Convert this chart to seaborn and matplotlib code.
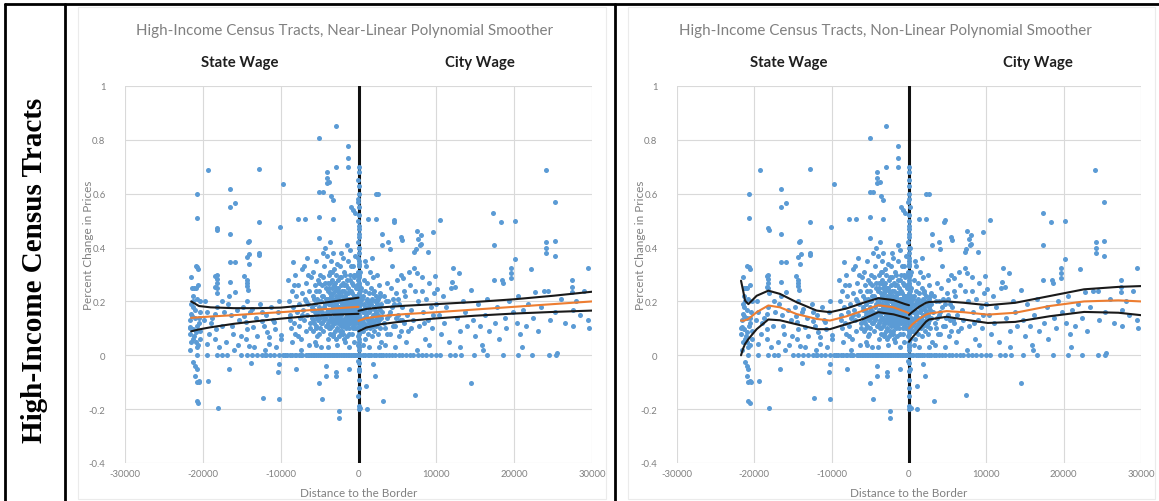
import matplotlib
matplotlib.use("Agg")
import matplotlib.pyplot as plt
import seaborn as sns
import pandas as pd
from matplotlib.lines import Line2D
from matplotlib.patches import Rectangle

sns.set_theme(style="white")
plt.rcParams['font.family'] = ['Lato', 'DejaVu Sans']

# ---------------- data ----------------
far_left = [(-21600, 0.13), (-21500, 0.19), (-21400, 0.25), (-21300, 0.22), (-21200, 0.20), (-21400, 0.147),
            (-21000, 0.14), (-21300, 0.098), (-21100, 0.073), (-21500, 0.05), (-20900, 0.048), (-20800, 0.03),
            (-21600, 0.02), (-21700, 0.10), (-21700, 0.08), (-20500, 0.12), (-20400, 0.16), (-20300, 0.20),
            (-20300, 0.09), (-20300, 0.06), (-20710, 0.60), (-20700, 0.51), (-20900, 0.333), (-20700, 0.327),
            (-20600, 0.32), (-21100, 0.25), (-20900, 0.25), (-21500, 0.29), (-20600, 0.26), (-21200, -0.026),
            (-21000, -0.039), (-20800, -0.051), (-21000, -0.076), (-20500, -0.094), (-20800, -0.10),
            (-20800, -0.171), (-20600, -0.178), (-21000, 0.17), (-20700, 0.11), (-21200, 0.06), (-20600, 0.04),
            (-21500, 0.155), (-20800, 0.21), (-21300, 0.18), (-20500, 0.14), (-21600, 0.105), (-20900, 0.085)]

state_outer = [(-19300, 0.689), (-18220, 0.473), (-18130, 0.465), (-18220, 0.30), (-18220, 0.285), (-18220, 0.27),
               (-18220, 0.25), (-18130, 0.23), (-18400, 0.296), (-18400, 0.252), (-18400, 0.153), (-18200, 0.178),
               (-18400, 0.06), (-18300, 0.098), (-19480, 0.16), (-19480, 0.042), (-19700, 0.20), (-19000, 0.12),
               (-19200, 0.08), (-19800, 0.13), (-18800, 0.14), (-17600, 0.11), (-17300, 0.16), (-17000, 0.05),
               (-17900, 0.03), (-16510, 0.617), (-16510, 0.552), (-15870, 0.564), (-16510, 0.45), (-16500, 0.347),
               (-15870, 0.345), (-16510, 0.273), (-16600, 0.22), (-15870, 0.234), (-16250, 0.11), (-16100, 0.079),
               (-16400, 0.15), (-15600, 0.17), (-15300, 0.13), (-15100, 0.07), (-15500, 0.04), (-16800, 0.19),
               (-14070, 0.426), (-14030, 0.376), (-14100, 0.34), (-14200, 0.42), (-14300, 0.366), (-14370, 0.28),
               (-14370, 0.27), (-14160, 0.243), (-14300, 0.257), (-14650, 0.296), (-14300, 0.203), (-14650, 0.147),
               (-14500, 0.122), (-14300, 0.098), (-14500, 0.06), (-14100, 0.036), (-14800, 0.18), (-13900, 0.16),
               (-13660, 0.172), (-13500, 0.104), (-13200, 0.14), (-13000, 0.07), (-12830, 0.693), (-12790, 0.494),
               (-12790, 0.38), (-12800, 0.373), (-12350, 0.16), (-12350, 0.129), (-12600, 0.19), (-12100, 0.11),
               (-11800, 0.085), (-11500, 0.067), (-11500, 0.042), (-11900, 0.15), (-11300, 0.18), (-11000, 0.13),
               (-10800, 0.122), (-10700, 0.098), (-10400, 0.16), (-10200, 0.20), (-10000, 0.06), (-9900, 0.075),
               (-10080, 0.475), (-9640, 0.637), (-17500, 0.20), (-16000, 0.02), (-13400, 0.03), (-12000, 0.02),
               (-10600, 0.03), (-19370, -0.094), (-20480, -0.098), (-18045, -0.197), (-12290, -0.158),
               (-10210, -0.161), (-10215, -0.032), (-10300, -0.063), (-16700, -0.05), (-13800, -0.03)]

cluster_a = [(-9000, 0.28), (-8900, 0.20), (-8800, 0.15), (-8700, 0.10), (-8600, 0.24), (-8500, 0.05), (-8400, 0.18),
             (-8300, 0.12), (-8200, 0.30), (-8100, 0.08), (-8000, 0.22), (-7900, 0.16), (-7800, 0.26), (-7700, 0.11),
             (-7600, 0.19), (-7500, 0.14), (-7400, 0.06), (-7300, 0.23), (-7200, 0.32), (-7100, 0.17), (-7000, 0.13),
             (-6900, 0.21), (-6800, 0.09), (-6700, 0.27), (-6600, 0.15), (-6500, 0.19), (-6400, 0.04), (-6300, 0.24),
             (-6200, 0.12), (-6100, 0.29), (-6000, 0.17), (-8750, 0.13), (-8250, 0.26), (-7750, 0.07), (-7250, 0.15),
             (-6750, 0.20), (-6250, 0.10), (-7730, 0.506), (-6870, 0.506), (-8380, 0.345), (-8060, -0.051),
             (-6950, 0.33), (-6450, 0.30), (-7450, 0.02), (-6650, 0.36)]

cluster_b = [(-5950, 0.14), (-5900, 0.22), (-5850, 0.09), (-5800, 0.31), (-5750, 0.17), (-5700, 0.12), (-5650, 0.26),
             (-5600, 0.05), (-5550, 0.19), (-5500, 0.15), (-5450, 0.35), (-5400, 0.11), (-5350, 0.21), (-5300, 0.07),
             (-5250, 0.28), (-5200, 0.16), (-5150, 0.13), (-5100, 0.24), (-5050, 0.18), (-5040, 0.605),
             (-5040, 0.807), (-5040, 0.512), (-5040, 0.434), (-5000, 0.10), (-4950, 0.30), (-4900, 0.14),
             (-4850, 0.20), (-4800, 0.03), (-4750, 0.26), (-4700, 0.16), (-4650, 0.12), (-4600, 0.605), (-4600, 0.38),
             (-4550, 0.22), (-4500, 0.09), (-4450, 0.33), (-4400, 0.18), (-4350, 0.14), (-4300, 0.27), (-4250, 0.40),
             (-4200, 0.11), (-4150, 0.21), (-4100, 0.68), (-4090, 0.66), (-4080, 0.64), (-4050, 0.37), (-4000, 0.16),
             (-3950, 0.24), (-3900, 0.06), (-3850, 0.30), (-3800, 0.19), (-3750, 0.642), (-3750, 0.13), (-3700, 0.42),
             (-3650, 0.23), (-3600, 0.10), (-3570, 0.593), (-3550, 0.35), (-3500, 0.17), (-3450, 0.28), (-3400, 0.14),
             (-3350, 0.21), (-3320, 0.578), (-3320, 0.506), (-3300, 0.38), (-3250, 0.08), (-3200, 0.26),
             (-3150, 0.16), (-3100, 0.32), (-3050, 0.12), (-2930, 0.85),
             (-5920, 0.18), (-5820, 0.13), (-5720, 0.21), (-5620, 0.16), (-5520, 0.10), (-5420, 0.24), (-5320, 0.14),
             (-5220, 0.20), (-5120, 0.08), (-5020, 0.27), (-4920, 0.17), (-4820, 0.12), (-4720, 0.22), (-4620, 0.15),
             (-4520, 0.29), (-4420, 0.13), (-4320, 0.19), (-4220, 0.25), (-4120, 0.15), (-4020, 0.20), (-3920, 0.12),
             (-3820, 0.25), (-3720, 0.17), (-3620, 0.31), (-3520, 0.22), (-3420, 0.11), (-3320, 0.18), (-3220, 0.23),
             (-3120, 0.20), (-3020, 0.15), (-4700, -0.162), (-5080, -0.103), (-4180, -0.039), (-4150, -0.076),
             (-3965, 0.03), (-5475, 0.04), (-2930, 0.699)]

cluster_c = [(-2950, 0.13), (-2900, 0.19), (-2850, 0.25), (-2800, 0.10), (-2750, 0.16), (-2700, 0.34), (-2650, 0.21),
             (-2600, 0.14), (-2550, 0.07), (-2500, 0.23), (-2450, 0.18), (-2400, 0.29), (-2350, 0.12), (-2300, 0.20),
             (-2250, 0.15), (-2200, 0.38), (-2150, 0.24), (-2100, 0.09), (-2050, 0.17), (-2000, 0.27), (-1950, 0.13),
             (-1900, 0.21), (-1850, 0.31), (-1800, 0.16), (-1750, 0.05), (-1700, 0.22), (-1650, 0.14), (-1600, 0.19),
             (-1550, 0.26), (-1500, 0.11), (-1450, 0.18), (-1400, 0.35), (-1390, 0.778), (-1390, 0.731),
             (-1390, 0.699), (-1350, 0.23), (-1300, 0.15), (-1250, 0.20), (-1200, 0.08), (-1150, 0.28), (-1100, 0.17),
             (-1050, 0.12), (-1000, 0.55), (-1000, 0.24), (-950, 0.19), (-900, 0.33), (-850, 0.14), (-800, 0.21),
             (-750, 0.54), (-750, 0.10), (-700, 0.26), (-650, 0.16), (-600, 0.30), (-550, 0.12), (-500, 0.53),
             (-500, 0.22), (-450, 0.18), (-400, 0.37), (-350, 0.15), (-300, 0.25),
             (-2980, 0.17), (-2880, 0.22), (-2780, 0.14), (-2680, 0.18), (-2580, 0.24), (-2480, 0.15), (-2380, 0.20),
             (-2280, 0.11), (-2180, 0.17), (-2080, 0.22), (-1980, 0.16), (-1880, 0.12), (-1780, 0.20), (-1680, 0.17),
             (-1580, 0.23), (-1480, 0.15), (-1380, 0.19), (-1280, 0.12), (-1180, 0.21), (-1080, 0.15), (-980, 0.17),
             (-880, 0.20), (-780, 0.13), (-680, 0.19), (-580, 0.16), (-480, 0.20), (-380, 0.12), (-2930, 0.30),
             (-2630, 0.28), (-2330, 0.33), (-2030, 0.36), (-1730, 0.30), (-1430, 0.41), (-1130, 0.39), (-830, 0.27),
             (-530, 0.29), (-2470, -0.207), (-2470, -0.233), (-2890, -0.063), (-2850, -0.076), (-1165, -0.051),
             (-2700, 0.04), (-1900, 0.06), (-1200, 0.03), (-600, 0.05), (-2300, 0.08), (-1500, 0.07)]

dense_core = [(-3980, 0.11), (-3880, 0.21), (-3780, 0.15), (-3680, 0.27), (-3580, 0.13), (-3480, 0.19), (-3380, 0.25),
              (-3280, 0.12), (-3180, 0.18), (-3080, 0.24), (-2990, 0.09), (-2890, 0.16), (-2790, 0.20), (-2690, 0.12),
              (-2590, 0.17), (-2490, 0.22), (-2390, 0.14), (-2290, 0.26), (-2190, 0.13), (-2090, 0.19), (-1990, 0.11),
              (-1890, 0.24), (-1790, 0.14), (-1690, 0.19), (-1590, 0.12), (-1490, 0.21), (-1390, 0.16), (-1290, 0.25),
              (-1190, 0.14), (-1090, 0.19), (-990, 0.13), (-890, 0.23), (-790, 0.17), (-690, 0.11), (-590, 0.22),
              (-490, 0.15), (-390, 0.19), (-290, 0.14), (-200, 0.18), (-3930, 0.17), (-3730, 0.10), (-3530, 0.14),
              (-3330, 0.16), (-3130, 0.13), (-2940, 0.21), (-2740, 0.16), (-2540, 0.13), (-2340, 0.17), (-2140, 0.20),
              (-1940, 0.19), (-1740, 0.13), (-1540, 0.17), (-1340, 0.13), (-1140, 0.18), (-940, 0.15), (-740, 0.18),
              (-540, 0.13), (-340, 0.17), (-3830, 0.19), (-3430, 0.21), (-3030, 0.18), (-2630, 0.15), (-2230, 0.16),
              (-1830, 0.18), (-1430, 0.14), (-1030, 0.21), (-630, 0.14), (-230, 0.22), (-3630, 0.08), (-3230, 0.07),
              (-2830, 0.06), (-2430, 0.09), (-2030, 0.08), (-1630, 0.10), (-1230, 0.10), (-830, 0.08), (-430, 0.10),
              (-3860, 0.27), (-3460, 0.31), (-3060, 0.27), (-2660, 0.25), (-2260, 0.29), (-1860, 0.26), (-1460, 0.28),
              (-1060, 0.30), (-660, 0.33), (-260, 0.30)]

border_col = [(0, 0.70), (0, 0.68), (-50, 0.65), (50, 0.63), (0, 0.60), (-100, 0.57), (100, 0.55), (0, 0.52),
              (-50, 0.50), (50, 0.47), (0, 0.44), (-100, 0.42), (100, 0.40), (0, 0.38), (-50, 0.36), (50, 0.34),
              (0, 0.33), (-100, 0.31), (100, 0.30), (0, 0.29), (-50, 0.28), (50, 0.27), (0, 0.26), (-150, 0.25),
              (150, 0.24), (0, 0.23), (-50, 0.22), (50, 0.21), (0, 0.20), (-100, 0.19), (100, 0.18), (0, 0.17),
              (-50, 0.16), (50, 0.15), (0, 0.14), (-150, 0.13), (150, 0.12), (0, 0.11), (-50, 0.10), (50, 0.09),
              (0, 0.08), (-100, 0.07), (100, 0.06), (0, 0.05), (-50, 0.04), (50, 0.03), (0, 0.02), (200, 0.22),
              (-200, 0.18), (250, 0.14), (-250, 0.26), (200, 0.31), (-200, 0.10), (250, 0.20), (-250, 0.15),
              (300, 0.25), (0, -0.03), (0, -0.06), (50, -0.09), (0, -0.12), (-50, -0.15), (0, -0.188), (200, -0.197),
              (0, -0.20), (-100, -0.02), (100, -0.05), (300, 0.17), (300, 0.09), (-300, 0.21), (0, 0.35), (50, 0.45),
              (0, 0.48), (-50, 0.58), (0, 0.40)]

cluster_d = [(450, 0.13), (500, 0.21), (550, 0.09), (600, 0.17), (650, 0.28), (700, 0.12), (750, 0.19), (800, 0.06),
             (850, 0.24), (900, 0.15), (950, 0.33), (1000, 0.11), (1050, 0.20), (1100, 0.14), (1150, 0.27),
             (1200, 0.08), (1260, 0.506), (1250, 0.18), (1300, 0.12), (1350, 0.23), (1400, 0.16), (1450, 0.31),
             (1500, 0.10), (1550, 0.19), (1600, 0.14), (1650, 0.25), (1700, 0.07), (1750, 0.21), (1800, 0.15),
             (1850, 0.29), (1900, 0.12), (1950, 0.18), (2000, 0.24), (2050, 0.09), (2100, 0.17), (2150, 0.13),
             (2220, 0.60), (2250, 0.506), (2250, 0.22), (2300, 0.11), (2350, 0.19), (2400, 0.30), (2450, 0.15),
             (2530, 0.60), (2500, 0.08), (2550, 0.21), (2600, 0.13), (2650, 0.26), (2700, 0.17), (2750, 0.10),
             (2800, 0.23), (2850, 0.14), (2900, 0.19), (2950, 0.05), (2980, 0.45), (2980, 0.408), (1070, -0.20),
             (1850, -0.032), (2070, -0.076), (1000, -0.113), (600, 0.04), (1300, 0.03), (2600, 0.03), (800, 0.35),
             (1700, 0.36),
             (350, 0.19), (420, 0.11), (520, 0.16), (620, 0.22), (720, 0.14), (820, 0.18), (920, 0.10), (1020, 0.16),
             (1120, 0.21), (1220, 0.13), (1320, 0.19), (1420, 0.12), (1520, 0.17), (1620, 0.20), (1720, 0.13),
             (1820, 0.11), (1920, 0.23), (2020, 0.15), (2120, 0.20), (2220, 0.16), (2320, 0.14), (2420, 0.20),
             (2520, 0.12), (2620, 0.18), (2720, 0.22)]

city_near = [(3200, -0.169), (3300, 0.12), (3500, 0.20), (3700, 0.08), (3830, 0.42), (4000, 0.395), (4000, 0.16),
             (4200, 0.25), (4400, 0.11), (4520, 0.495), (4600, 0.503), (4600, 0.19), (4800, 0.14), (5000, 0.28),
             (5200, 0.07), (5400, 0.30), (5460, 0.438), (5540, 0.427), (5600, 0.18), (5760, 0.286), (5800, 0.12),
             (6000, 0.22), (6200, 0.15), (6400, 0.09), (6600, 0.26), (6800, 0.17), (7000, 0.13), (7180, 0.325),
             (7180, 0.382), (7400, 0.395), (7310, -0.148), (7480, 0.46), (7530, 0.306), (7600, 0.20), (7700, 0.43),
             (7800, 0.11), (7900, 0.41), (8000, 0.446), (8000, 0.414), (8100, 0.24), (8300, 0.16), (8500, 0.06),
             (8700, 0.21), (8950, 0.382), (8900, 0.13), (9100, 0.27), (9300, 0.18), (9520, 0.459), (9500, 0.10),
             (9700, 0.23), (9830, 0.293), (10050, 0.248), (3400, 0.04), (4700, 0.03), (6100, 0.05), (7500, 0.02),
             (9000, 0.04), (3600, 0.27), (4300, 0.33), (5100, 0.21), (6500, 0.31), (7200, 0.24), (8200, 0.29),
             (9600, 0.15), (3900, 0.15), (5300, 0.13), (6700, 0.10), (8400, 0.12), (9900, 0.19),
             (3050, 0.16), (3250, 0.22), (3450, 0.10), (3650, 0.14), (3850, 0.20), (4050, 0.08), (4250, 0.18),
             (4450, 0.21), (4650, 0.11), (4850, 0.23), (5050, 0.15), (5250, 0.19), (5450, 0.09), (5650, 0.13),
             (5850, 0.24)]

city_far = [(10410, 0.504), (10300, 0.15), (10600, 0.08), (10800, 0.22), (11000, 0.12), (11300, 0.18), (11600, 0.05),
            (11900, 0.25), (12130, 0.325), (12050, 0.274), (12400, 0.254), (12600, 0.14), (12930, 0.306),
            (13100, 0.09), (13400, 0.20), (13700, 0.16), (14000, 0.11), (14480, 0.242), (14480, -0.103),
            (14700, 0.13), (15000, 0.07), (15300, 0.19), (15600, 0.11), (15900, 0.04), (16200, 0.15), (16500, 0.21),
            (16800, 0.09), (17270, 0.53), (17360, 0.408), (17350, 0.28), (17500, 0.12), (17800, 0.18), (18000, 0.06),
            (18370, 0.495), (18500, 0.28), (18600, 0.267), (18800, 0.14), (19000, 0.10), (19300, 0.20),
            (19600, 0.325), (19600, 0.306), (19650, 0.286), (19800, 0.16), (20140, 0.497), (20140, 0.357),
            (20300, 0.12), (20500, 0.22), (20800, 0.08), (21100, 0.17), (21500, 0.11), (21800, 0.19), (22140, 0.322),
            (22400, 0.14), (22700, 0.235), (23000, 0.09), (23400, 0.18), (23800, 0.24), (24080, 0.689),
            (24130, 0.42), (24130, 0.40), (24130, 0.38), (24400, 0.24), (24600, 0.13), (25230, 0.57), (25230, 0.423),
            (25230, 0.367), (25300, 0.16), (25500, 0.01), (26000, 0.21), (26500, 0.12), (27440, 0.28),
            (27440, 0.254), (27440, 0.235), (27500, 0.17), (27500, 0.11), (28000, 0.20), (28500, 0.15),
            (29000, 0.24), (29440, 0.325), (29500, 0.13), (29600, 0.10), (13000, 0.03), (16000, 0.02), (21000, 0.03)]

zero_row_x = [-20775, -19480, -18190, -16900, -15040, -13660, -12460, -11940, -11420, -10215, -9440, -9140, -8490,
              -7970, -7630, -7200, -6770, -6300, -5905, -5475, -5000, -4610, -4300, -3965, -3600, -3320, -2890,
              -2500, -2025, -1595, -1165, -735, -400, -85, 560, 1210, 1640, 2285, 2900, 3500, 4300, 5200, 6100,
              7000, 8200, 9300, 10500, 11800, 13200, 14800, 16500, 18600, 20500, 22330, 24440, 25340,
              -17500, -14300, -13100, -12000, -10800, -9700, -8800, -8200, -7400, -6550, -6100, -5700, -5250,
              -4800, -4450, -4100, -3800, -3450, -3100, -2700, -2300, -1800, -1400, -950, -550, -250, 250, 850,
              1400, 1950, 2600, 3200, 3900, 4700, 5600, 6600, 7600, 8700, 9900, 12400]

# fitted smoother + confidence bands (state side / city side)
lin_state_x = [-21500, -20500, -19000, -16000, -13000, -10000, -7000, -4000, -2000, 0]
lin_state_fit = [0.139, 0.141, 0.144, 0.149, 0.155, 0.160, 0.166, 0.172, 0.176, 0.180]
lin_state_hi = [0.200, 0.183, 0.178, 0.175, 0.175, 0.177, 0.185, 0.197, 0.205, 0.214]
lin_state_lo = [0.089, 0.096, 0.104, 0.117, 0.127, 0.136, 0.144, 0.150, 0.152, 0.154]
lin_city_x = [0, 1000, 3000, 6000, 10000, 15000, 20000, 25000, 30000]
lin_city_fit = [0.128, 0.138, 0.146, 0.153, 0.160, 0.170, 0.180, 0.190, 0.200]
lin_city_hi = [0.165, 0.172, 0.178, 0.184, 0.190, 0.198, 0.208, 0.221, 0.236]
lin_city_lo = [0.089, 0.103, 0.116, 0.127, 0.137, 0.147, 0.155, 0.161, 0.166]

nl_state_x = [-21720, -21450, -21200, -20770, -19700, -18190, -16680, -14525, -11940, -10215, -8060, -5905,
              -3965, -2000, -500, 0]
nl_state_fit = [0.129, 0.128, 0.130, 0.135, 0.160, 0.185, 0.178, 0.153, 0.135, 0.129, 0.145, 0.166, 0.186,
                0.178, 0.162, 0.156]
nl_state_hi = [0.277, 0.240, 0.203, 0.190, 0.221, 0.240, 0.228, 0.197, 0.166, 0.160, 0.174, 0.195, 0.212,
               0.205, 0.190, 0.186]
nl_state_lo = [0.000, 0.025, 0.042, 0.060, 0.097, 0.133, 0.130, 0.115, 0.097, 0.097, 0.116, 0.135, 0.160,
               0.152, 0.140, 0.135]
nl_city_x = [0, 400, 1300, 2200, 2600, 4860, 7080, 10190, 13750, 18190, 22640, 27080, 30000]
nl_city_fit = [0.100, 0.114, 0.135, 0.151, 0.155, 0.164, 0.160, 0.151, 0.158, 0.183, 0.200, 0.204, 0.200]
nl_city_hi = [0.150, 0.160, 0.180, 0.195, 0.198, 0.200, 0.195, 0.186, 0.195, 0.220, 0.245, 0.254, 0.257]
nl_city_lo = [0.050, 0.065, 0.095, 0.125, 0.133, 0.143, 0.133, 0.120, 0.124, 0.145, 0.161, 0.158, 0.149]

titles = ["High-Income Census Tracts, Near-Linear Polynomial Smoother",
          "High-Income Census Tracts, Non-Linear Polynomial Smoother"]
side_labels = ["State Wage", "City Wage"]
x_ticks = [-30000, -20000, -10000, 0, 10000, 20000, 30000]
x_tick_labels = ["-30000", "-20000", "-10000", "0", "10000", "20000", "30000"]
y_ticks = [-0.4, -0.2, 0, 0.2, 0.4, 0.6, 0.8, 1.0]
y_tick_labels = ["-0.4", "-0.2", "0", "0.2", "0.4", "0.6", "0.8", "1"]
row_label = "High-Income Census Tracts"
x_title = "Distance to the Border"
y_title = "Percent Change in Prices"

# ---------------- build table ----------------
pts = (far_left + state_outer + cluster_a + cluster_b + cluster_c + dense_core + border_col + cluster_d
       + city_near + city_far)
pts = pts + [(x, 0.0) for x in zero_row_x]
scatter_df = pd.DataFrame(pts, columns=["dist", "change"])

BLUE = "#5B9BD5"
ORANGE = "#ED7D31"
GRAY = "#808080"
GRID = "#D9D9D9"

W, H = 1159, 502
fig = plt.figure(figsize=(W / 100, H / 100), dpi=100)

panels = [
    dict(left=125, right=592, title_x=345, state_x=240, city_x=480, ylab_x=88,
         lines=[(lin_state_x, lin_state_fit, lin_state_hi, lin_state_lo),
                (lin_city_x, lin_city_fit, lin_city_hi, lin_city_lo)]),
    dict(left=677, right=1141, title_x=885, state_x=789, city_x=1038, ylab_x=640,
         lines=[(nl_state_x, nl_state_fit, nl_state_hi, nl_state_lo),
                (nl_city_x, nl_city_fit, nl_city_hi, nl_city_lo)]),
]
top, bottom = 87, 464

for i, p in enumerate(panels):
    ax = fig.add_axes([p["left"] / W, 1 - bottom / H, (p["right"] - p["left"]) / W, (bottom - top) / H])
    ax.set_xlim(-30000, 30000)
    ax.set_ylim(-0.4, 1.0)
    ax.set_xticks(x_ticks)
    ax.set_xticklabels(x_tick_labels)
    ax.set_yticks(y_ticks)
    ax.set_yticklabels(y_tick_labels)
    ax.tick_params(axis="both", length=0, labelsize=6.8, labelcolor=GRAY)
    ax.tick_params(axis="y", pad=14)
    ax.tick_params(axis="x", pad=4)
    ax.grid(True, color=GRID, linewidth=0.8, zorder=0)
    for s in ax.spines.values():
        s.set_visible(False)
    ax.set_facecolor("white")
    ax.set_axisbelow(True)

    ax.axvline(0, color="#111111", linewidth=2.2, zorder=1.5)
    sns.scatterplot(data=scatter_df, x="dist", y="change", ax=ax, color=BLUE, s=13, linewidth=0,
                    edgecolor=None, zorder=2, legend=False)
    for (lx, lf, lh, ll) in p["lines"]:
        seg = pd.DataFrame({"x": lx, "fit": lf, "hi": lh, "lo": ll})
        sns.lineplot(data=seg, x="x", y="hi", ax=ax, color="#1a1a1a", linewidth=1.5, sort=False,
                     estimator=None, zorder=3)
        sns.lineplot(data=seg, x="x", y="lo", ax=ax, color="#1a1a1a", linewidth=1.5, sort=False,
                     estimator=None, zorder=3)
        sns.lineplot(data=seg, x="x", y="fit", ax=ax, color=ORANGE, linewidth=1.5, sort=False,
                     estimator=None, zorder=3)
    ax.set_xlabel("")
    ax.set_ylabel("")

    fig.text(p["title_x"] / W, 1 - 31 / H, titles[i], ha="center", va="center", fontsize=10.9, color=GRAY)
    fig.text(p["state_x"] / W, 1 - 63 / H, side_labels[0], ha="center", va="center", fontsize=10.7,
             fontweight="bold", color="#1f1f1f")
    fig.text(p["city_x"] / W, 1 - 63 / H, side_labels[1], ha="center", va="center", fontsize=10.7,
             fontweight="bold", color="#1f1f1f")
    fig.text((p["left"] + p["right"]) / 2 / W, 1 - 494 / H, x_title, ha="center", va="center",
             fontsize=8.4, color=GRAY)
    fig.text(p["ylab_x"] / W, 1 - 245 / H, y_title, ha="center", va="center", rotation=90,
             fontsize=8.5, color=GRAY)

# faint chart-area frames
fig.add_artist(Rectangle((78 / W, 1 - 500 / H), (606 - 78) / W, (500 - 8) / H, transform=fig.transFigure,
                         fill=False, edgecolor="#EBEBEB", linewidth=0.8))
fig.add_artist(Rectangle((628 / W, 1 - 500 / H), (1155 - 628) / W, (500 - 8) / H, transform=fig.transFigure,
                         fill=False, edgecolor="#EBEBEB", linewidth=0.8))

# table rules
lw = 2.0
fig.add_artist(Line2D([5 / W, 1.0], [1 - 5 / H, 1 - 5 / H], color="black", linewidth=lw))
for xpix in (5, 65, 615):
    fig.add_artist(Line2D([xpix / W, xpix / W], [0, 1 - 5 / H], color="black", linewidth=lw))

fig.text(35 / W, 1 - 270 / H, row_label, rotation=90, ha="center", va="center", fontsize=21,
         fontweight="bold", family=["Liberation Serif", "DejaVu Serif"], color="black")

fig.savefig("out.png", dpi=100)
